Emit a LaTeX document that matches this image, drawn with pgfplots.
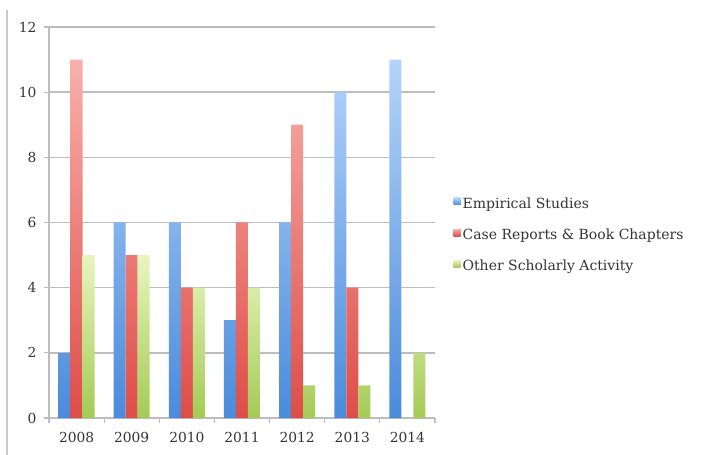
\documentclass[border=0pt]{standalone}
\usepackage{pgfplots}
\pgfplotsset{compat=1.18}
\usepackage{fontspec}
\setmainfont{DejaVu Serif}
\definecolor{bluetop}{HTML}{B5D3FA}
\definecolor{bluebot}{HTML}{4A8BDB}
\definecolor{redtop}{HTML}{F8B0AC}
\definecolor{redbot}{HTML}{DE4D48}
\definecolor{greentop}{HTML}{E8F5BE}
\definecolor{greenbot}{HTML}{A3CB55}
\definecolor{gridc}{HTML}{BDBDBD}
\definecolor{txt}{HTML}{333333}
\begin{document}
\begin{tikzpicture}
\path[use as bounding box] (-49pt,-37pt) rectangle (655pt,418pt);
\draw[gridc!80, line width=1.5pt] (-42pt,-37pt) -- (-42pt,408pt);
\begin{axis}[
  at={(27.57pt,0pt)}, anchor=origin,
  scale only axis, width=386pt, height=391pt,
  ybar=0pt, bar width=12pt,
  xmin=-0.5, xmax=6.5, ymin=0, ymax=12,
  xtick={0,...,6}, xticklabels={2008,2009,2010,2011,2012,2013,2014},
  minor xtick={-0.5,0.5,...,6.5},
  ytick={0,2,...,12},
  major x tick style={draw=none},
  minor tick length=5pt,
  minor x tick style={gridc, line width=1.2pt},
  y tick style={gridc, line width=1.2pt},
  major tick length=5pt,
  tick align=outside, tick pos=left,
  ymajorgrids, grid style={gridc, line width=1.5pt},
  axis x line*=bottom, axis y line*=left,
  axis line style={gridc, line width=1.5pt},
  x axis line style={-}, y axis line style={-},
  ticklabel style={font=\fontsize{13.8}{16}\selectfont, text=txt},
  /pgf/number format/assume math mode=true,
  xticklabel style={yshift=-6pt},
  yticklabel style={xshift=-4pt},
  legend style={at={(rel axis cs:1.04,0.468)}, anchor=west, draw=none, fill=none,
    font=\fontsize{14}{16}\selectfont, text=txt, row sep=15pt,
    /tikz/every even column/.append style={column sep=1pt}},
  legend cell align=left,
]
\addplot[draw=none, top color=bluetop, bottom color=bluebot,
  legend image code/.code={\fill[bluebot!80!bluetop] (0pt,-1pt) rectangle (7pt,6pt);}]
  coordinates {(0,2) (1,6) (2,6) (3,3) (4,6) (5,10) (6,11)};
\addlegendentry{Empirical Studies}
\addplot[draw=none, top color=redtop, bottom color=redbot,
  legend image code/.code={\fill[redbot!80!redtop] (0pt,-1pt) rectangle (7pt,6pt);}]
  coordinates {(0,11) (1,5) (2,4) (3,6) (4,9) (5,4)};
\addlegendentry{Case Reports \& Book Chapters}
\addplot[draw=none, top color=greentop, bottom color=greenbot,
  legend image code/.code={\fill[greenbot!80!greentop] (0pt,-1pt) rectangle (7pt,6pt);}]
  coordinates {(0,5) (1,5) (2,4) (3,4) (4,1) (5,1) (6,2)};
\addlegendentry{Other Scholarly Activity}
\end{axis}
\end{tikzpicture}
\end{document}
